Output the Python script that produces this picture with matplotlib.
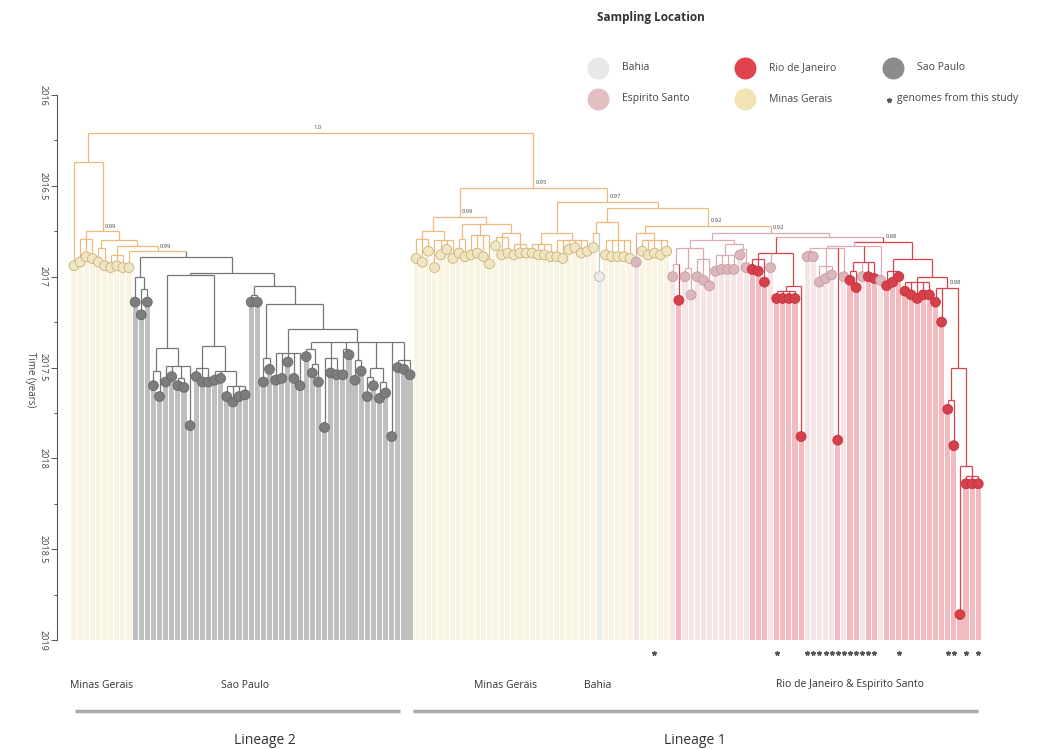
'''
Time-scaled tree of tip samples by sampling location (two lineages)
'''

import numpy as np
import matplotlib.pyplot as plt

plt.rcParams['font.family'] = ['Open Sans', 'DejaVu Sans']


#%% =====================================
#   Data: clades as newick-like strings
#   leaf / node label = LOC@date[#posterior][*]
#   LOC: M Minas Gerais, S Sao Paulo, B Bahia, E Espirito Santo, R Rio de Janeiro
#   '*' = genome from this study
#   =====================================
SP_A = "(S@2017.14,(S@2017.21,S@2017.14)S@2017.07)S@2017.0"
SP_Q = ("((S@2017.6,S@2017.66)S@2017.52,(S@2017.58,S@2017.55,(S@2017.6,S@2017.61)S@2017.56,"
        "S@2017.82)S@2017.49)S@2017.39")
SP_R = ("((S@2017.55,S@2017.58,S@2017.58)S@2017.5,(S@2017.57,S@2017.56,"
        "(S@2017.66,S@2017.69,S@2017.66,S@2017.65)S@2017.6)S@2017.52)S@2017.38")
SP_REST = ("((S@2017.44,(S@2017.53,S@2017.58)S@2017.48)S@2017.4,(S@2017.83,S@2017.53,S@2017.54)S@2017.45,"
           "(S@2017.54,S@2017.43)S@2017.4,(S@2017.57,S@2017.52)S@2017.46,"
           "((S@2017.66,S@2017.6)S@2017.55,(S@2017.67,S@2017.64)S@2017.58)S@2017.5,S@2017.88,"
           "(S@2017.5,S@2017.51,S@2017.54)S@2017.46)S@2017.36")
SP_C = ("((S@2017.14,S@2017.14)S@2017.1,((S@2017.58,S@2017.51)S@2017.45,"
        "((S@2017.57,S@2017.56,S@2017.47,S@2017.56,S@2017.6)S@2017.42," + SP_REST + ")S@2017.29)S@2017.15)S@2017.05")

L1_A = ("(((M@2016.9,M@2016.92,M@2016.86)M@2016.79,(M@2016.95,M@2016.88,M@2016.85,M@2016.9)M@2016.8)M@2016.75,"
        "((M@2016.87,M@2016.89)M@2016.79,(M@2016.88,M@2016.87,M@2016.89,M@2016.93)M@2016.77,"
        "((M@2016.83,M@2016.88,M@2016.87)M@2016.78,(M@2016.88,M@2016.87,M@2016.87)M@2016.82)M@2016.76)M@2016.71)M@2016.67#0.99")
L1_B1 = ("((M@2016.87,M@2016.88,M@2016.88,M@2016.89)M@2016.82,"
         "(M@2016.89,M@2016.9,M@2016.85,M@2016.84,M@2016.87,M@2016.86)M@2016.8)M@2016.76")
L1_B2A = "((M@2016.84,B@2017.0)M@2016.76,(M@2016.88,M@2016.89,M@2016.89,M@2016.89,M@2016.9)M@2016.8)M@2016.7"
L1_C1 = "(E@2016.92,(M@2016.86,M@2016.88,M@2016.87*,M@2016.88,M@2016.86)M@2016.8)M@2016.76"
L1_D1 = ("(((E@2017.0,R@2017.13)E@2016.93,(E@2017.0,E@2017.1)E@2016.95,(E@2017.0,E@2017.02,E@2017.05)E@2016.9)E@2016.84,"
         "((E@2016.97,E@2016.96,E@2016.96,E@2016.96)E@2016.88,(E@2016.88,E@2016.95)E@2016.85)E@2016.82)E@2016.8")
L1_D2A = ("((R@2016.96,R@2016.97,R@2017.03)R@2016.9,E@2016.95,"
          "((R@2017.12*,R@2017.12,R@2017.12,R@2017.12)R@2017.08,R@2017.88)R@2017.05)R@2016.87")
L1_F1 = ("(((E@2016.89*,E@2016.89*)E@2016.86,(E@2017.03*,E@2017.01*,E@2016.99*)E@2016.94,R@2017.9*,E@2017.0*)E@2016.84,"
         "((R@2017.02*,R@2017.06*)R@2016.97,E@2017.0*,R@2017.0*,R@2017.01*)R@2016.92,E@2017.02)E@2016.83")
L1_G = ("((R@2017.05,R@2017.03,R@2017.0*)R@2016.97,((R@2017.08,R@2017.1,R@2017.12,R@2017.1,R@2017.1)R@2017.03,"
        "(R@2017.14,R@2017.25,((R@2017.73*,R@2017.93*)R@2017.68,"
        "(R@2018.86,(R@2018.14*,R@2018.14,R@2018.14*)R@2018.1)R@2018.04)R@2017.5)R@2017.06#0.98)R@2017.0)R@2016.9")

# assemble
SP = "(" + SP_A + ",((" + SP_Q + "," + SP_R + ")S@2016.99," + SP_C + ")S@2016.98)S@2016.89"
L2 = ("(M@2016.94,((M@2016.92,M@2016.89,M@2016.9)M@2016.79,((M@2016.92,M@2016.94)M@2016.84,"
      "((M@2016.95,M@2016.94,M@2016.95)M@2016.88,(M@2016.95," + SP + ")M@2016.86#0.99)M@2016.83)M@2016.8)M@2016.75#0.99)M@2016.37")
L1_F = "(" + L1_F1 + "," + L1_G + ")R@2016.81#0.88"
L1_D = "(" + L1_D1 + ",(" + L1_D2A + "," + L1_F + ")E@2016.78)E@2016.76#0.92"
L1_C = "(" + L1_C1 + "," + L1_D + ")M@2016.72#0.92"
L1_B = "(" + L1_B1 + ",(" + L1_B2A + "," + L1_C + ")M@2016.62)M@2016.59#0.97"
L1 = "(" + L1_A + "," + L1_B + ")M@2016.51#0.95"
TREE = "(" + L2 + "," + L1 + ")M@2016.21#1.0"

LOC_CODES  = ['B', 'R', 'S', 'E', 'M']
LOC_NAMES  = ['Bahia', 'Rio de Janeiro', 'Sao Paulo', 'Espirito Santo', 'Minas Gerais']
LEG_COLORS = ['#e8e8e8', '#e0434c', '#8c8c8c', '#e2bfc3', '#f3e3b3']

REGION_LABELS = ['Minas Gerais', 'Sao Paulo', 'Minas Gerais', 'Bahia', 'Rio de Janeiro & Espirito Santo']
LINEAGE_LABELS = ['Lineage 2', 'Lineage 1']

YEAR_TICKS = [2016, 2016.5, 2017, 2017.5, 2018, 2018.5, 2019]

# colours
BRANCH = {'M': '#f0b97c', 'S': '#767676', 'E': '#d9abb1', 'R': '#d6434e', 'B': '#c8c8c8'}
FILL   = {'M': '#f1e6c2', 'S': '#7d7d7d', 'E': '#dcb8bd', 'R': '#d6404b', 'B': '#ececec'}
EDGE   = {'M': '#c8b27a', 'S': '#686868', 'E': '#c39aa0', 'R': '#c0343f', 'B': '#b8b8b8'}
BAR    = {'M': '#faf4e3', 'S': '#bfbfbf', 'E': '#f5e5e7', 'R': '#f3bbc0', 'B': '#ececec'}


#%% =====================================
#   Tree parsing / layout
#   =====================================
def parse_tree(s):
    pos = 0

    def read():
        nonlocal pos
        kids = []
        if s[pos] == '(':
            pos += 1
            kids.append(read())
            while s[pos] == ',':
                pos += 1
                kids.append(read())
            pos += 1
        start = pos
        while pos < len(s) and s[pos] not in ',)':
            pos += 1
        label = s[start:pos]
        star = label.endswith('*')
        label = label.rstrip('*')
        post = None
        if '#' in label:
            label, post = label.split('#')
        loc, date = label.split('@')
        return {'loc': loc, 'date': float(date), 'post': post, 'star': star, 'kids': kids}

    return read()


tips = []


def place(node):
    if not node['kids']:
        node['x'] = len(tips)
        tips.append(node)
    else:
        for k in node['kids']:
            place(k)
        node['x'] = 0.5 * (node['kids'][0]['x'] + node['kids'][-1]['x'])


root = parse_tree(TREE)
place(root)
ntip = len(tips)


#%% =====================================
#   Plotting
#   =====================================
W, H = 1053, 749
fig = plt.figure(figsize=(W / 100, H / 100), dpi=100)

# pixel layout of the tree axes
px_tip0, px_step = 74.0, 6.11
px_left, px_right = 57.0, 990.0
px_top, px_bot = 95.0, 640.0

ax = fig.add_axes([px_left / W, 1 - px_bot / H, (px_right - px_left) / W, (px_bot - px_top) / H])
ax.set_xlim((px_left - px_tip0) / px_step, (px_right - px_tip0) / px_step)
ax.set_ylim(2019, 2016)

# background bars from each tip to the bottom
tx = np.array([t['x'] for t in tips])
td = np.array([t['date'] for t in tips])
tl = [t['loc'] for t in tips]
ax.bar(tx, 2019 - td, bottom=td, width=0.84, color=[BAR[l] for l in tl], zorder=1, linewidth=0)


def draw(node, parent=None):
    c = BRANCH[node['loc']]
    if parent is not None:
        ax.plot([node['x'], node['x']], [parent['date'], node['date']], color=c, lw=0.9, zorder=3,
                solid_capstyle='butt')
    if node['kids']:
        ax.plot([node['kids'][0]['x'], node['kids'][-1]['x']], [node['date'], node['date']],
                color=c, lw=0.9, zorder=3, solid_capstyle='butt')
        if node['post'] is not None:
            ax.text(node['x'] + 0.4, node['date'] - 0.015, node['post'], fontsize=4.2, color='#444444',
                    ha='left', va='bottom', zorder=5)
        for k in node['kids']:
            draw(k, node)


draw(root)

# tip circles
ax.scatter(tx, td, s=50, c=[FILL[l] for l in tl], edgecolors=[EDGE[l] for l in tl],
           linewidths=0.6, zorder=4)

# genomes from this study
sx = [t['x'] for t in tips if t['star']]
ax.plot(sx, [2019.072] * len(sx), linestyle='none', marker='*', ms=3.2, color='#555555', clip_on=False)

# axis styling
for sp in ['top', 'right', 'bottom']:
    ax.spines[sp].set_visible(False)
ax.spines['left'].set_color('#555555')
ax.spines['left'].set_linewidth(0.8)
ax.set_xticks([])
ax.set_yticks(YEAR_TICKS)
ax.set_yticks(np.arange(2016, 2019.01, 0.25), minor=True)
ax.set_yticklabels([str(v) for v in YEAR_TICKS], rotation=270, va='center', fontsize=6.5, color='#444444')
ax.tick_params(axis='y', which='major', length=4, width=0.7, color='#555555', pad=3)
ax.tick_params(axis='y', which='minor', length=2.5, width=0.7, color='#555555')

# overlay in pixel coordinates for legend and group labels
ov = fig.add_axes([0, 0, 1, 1])
ov.set_xlim(0, W)
ov.set_ylim(H, 0)
ov.axis('off')

ov.text(30, 380, 'Time (years)', rotation=270, fontsize=7, color='#444444', ha='center', va='center')

ov.text(597, 17, 'Sampling Location', fontsize=8.5, fontweight='bold', color='#333333', va='center')
leg_xy = [(598, 68), (745, 68), (893, 68), (598, 99), (745, 99)]
for (lx, ly), name, col in zip(leg_xy, LOC_NAMES, LEG_COLORS):
    ov.scatter([lx], [ly], s=250, color=col, zorder=3, linewidths=0)
    ov.text(lx + 24, ly, name, fontsize=7.5, color='#444444', va='center')
ov.plot([889], [100], marker='*', ms=3.5, color='#555555')
ov.text(897, 99, 'genomes from this study', fontsize=7.5, color='#444444', va='center')

for xx, lab in zip([102, 245, 506, 598, 850], REGION_LABELS):
    ov.text(xx, 685, lab, fontsize=7.5, color='#333333', ha='center', va='center')

ov.plot([75, 400], [711, 711], color='#a8a8a8', lw=2.5, solid_capstyle='butt')
ov.plot([413, 978], [711, 711], color='#a8a8a8', lw=2.5, solid_capstyle='butt')
for xx, lab in zip([265, 695], LINEAGE_LABELS):
    ov.text(xx, 740, lab, fontsize=10, color='#333333', ha='center', va='center')

plt.savefig('out.png', dpi=100)
plt.close()
